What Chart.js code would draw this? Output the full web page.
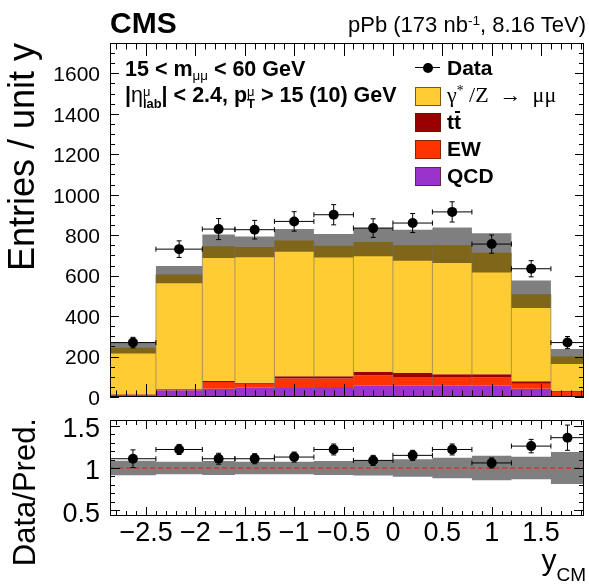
<!DOCTYPE html>
<html>
<head>
<meta charset="utf-8">
<title>DY pPb y_CM</title>
<script src="https://cdn.jsdelivr.net/npm/chart.js@4.4.1/dist/chart.umd.min.js"></script>
<style>
  html, body { margin: 0; padding: 0; background: #fff; overflow: hidden; }
  #wrap { position: relative; width: 589px; height: 588px; overflow: hidden;
          font-family: 'Liberation Sans', Arial, Helvetica, sans-serif; color: #000; }
  canvas { position: absolute; left: 0; }
  #main { top: 0; }
  #ratio { top: 405px; }
  .txt { position: absolute; white-space: nowrap; line-height: 1; }
  .b { font-weight: bold; }
  .rot { position: absolute; width: 300px; text-align: right; white-space: nowrap; line-height: 1;
         transform-origin: 0 0; transform: rotate(-90deg) translateX(-100%); }
  .greek { font-weight: normal; }
  .sub { font-size: 0.62em; position: relative; top: 0.3em; }
  .sup { font-size: 0.62em; position: relative; top: -0.55em; }
  .ss { display: inline-block; vertical-align: -0.45em; font-size: 0.6em; line-height: 0.95; }
  .ss > span { display: block; }
  .box { position: absolute; left: 415px; width: 24px; height: 17px; border: 1px solid rgba(80,30,0,0.7); }
  .tbar { position: relative; }
  .tbar::before { content: ''; position: absolute; left: 1px; right: 1px; top: 1px; height: 2px; background: #000; }
</style>
</head>
<body>
<div id="wrap">
  <canvas id="main" width="589" height="405"></canvas>
  <canvas id="ratio" width="589" height="183"></canvas>

  <div class="txt b" style="left:110px; top:8px; font-size:30px;">CMS</div>
  <div class="txt" style="right:3px; top:14px; font-size:22px;">pPb (173 nb<span class="sup">-1</span>, 8.16 TeV)</div>

  <div class="txt b" style="left:125px; top:59px; font-size:21.5px;">15 &lt; m<span class="sub greek">μμ</span> &lt; 60 GeV</div>
  <div class="txt b" style="left:125px; top:85px; font-size:21.5px;">|<span class="greek">η</span><span class="ss"><span class="greek">μ</span><span>lab</span></span>| &lt; 2.4, p<span class="ss"><span class="greek">μ</span><span>T</span></span> &gt; 15 (10) GeV</div>

  <!-- legend -->
  <div style="position:absolute; left:415px; top:67px; width:25px; height:1px; background:#000;"></div>
  <div style="position:absolute; left:423px; top:63px; width:10px; height:10px; border-radius:50%; background:#000;"></div>
  <div class="txt b" style="left:447px; top:57px; font-size:21px;">Data</div>
  <div class="box" style="top:87px; background:#ffcc33;"></div>
  <div class="txt" style="left:447px; top:84px; font-size:22px; font-family:'Liberation Serif', 'DejaVu Serif', serif;">γ<span class="sup">*</span> /Z &nbsp;→&nbsp; μμ</div>
  <div class="box" style="top:113px; background:#990000;"></div>
  <div class="txt b" style="left:447px; top:111px; font-size:21px;">t<span class="tbar">t</span></div>
  <div class="box" style="top:140px; background:#ff3300;"></div>
  <div class="txt b" style="left:447px; top:138px; font-size:21px;">EW</div>
  <div class="box" style="top:167px; background:#9933cc;"></div>
  <div class="txt b" style="left:447px; top:165px; font-size:21px;">QCD</div>

  <!-- axis titles -->
  <div class="rot" style="left:4px; top:43px; font-size:36px;">Entries / unit y</div>
  <div class="rot" style="left:9px; top:418px; font-size:31px;">Data/Pred.</div>
  <div class="txt" style="right:3px; top:545px; font-size:30px;">y<span style="font-size:19px; position:relative; top:11px;">CM</span></div>
</div>

<script>
// bin edges in y_CM
const binEdges = [-2.865, -2.4, -1.93, -1.6, -1.2, -0.8, -0.4, 0, 0.4, 0.8, 1.2, 1.6, 1.935];

// data (entries / unit y)
const dataVals = [269, 731, 830, 827, 868, 901, 835, 860, 915, 756, 634, 269];
const dataErr  = [26, 41, 52, 46, 48, 50, 46, 47, 50, 45, 40, 30];

// prediction components
const qcdVals = [3, 33, 41, 46, 45, 50, 56, 56, 56, 56, 41, 4];
const ewVals  = [8, 5, 33, 20, 46, 41, 51, 43, 43, 41, 25, 22];
const ttVals  = [3, 3, 5, 5, 11, 12, 16, 20, 13, 15, 12, 5];
const dyVals  = [229, 564, 666, 671, 672, 645, 643, 631, 638, 601, 430, 169];
const predUnc = [28, 43, 58, 51, 56, 58, 70, 77, 88, 97, 68, 37];

// ratio panel
const ratioVals = [1.11, 1.22, 1.11, 1.11, 1.13, 1.22, 1.09, 1.15, 1.22, 1.06, 1.26, 1.36];
const ratioErr  = [0.105, 0.06, 0.065, 0.06, 0.06, 0.065, 0.06, 0.06, 0.065, 0.06, 0.08, 0.15];
const ratioUnc  = [0.087, 0.075, 0.083, 0.075, 0.075, 0.083, 0.09, 0.105, 0.123, 0.145, 0.135, 0.19];

// tick labels
const xTickVals = [-2.5, -2, -1.5, -1, -0.5, 0, 0.5, 1, 1.5];
const yTickMain = [0, 200, 400, 600, 800, 1000, 1200, 1400, 1600];
const yTickRatio = [0.5, 1, 1.5];

Chart.defaults.font.family = "'Liberation Sans', Arial, Helvetica, sans-serif";
Chart.defaults.color = '#000';

const binCenters = binEdges.slice(0, -1).map((e, i) => (e + binEdges[i + 1]) / 2);

// one point per bin edge, value held until the next edge
function histLine(vals) {
  return binEdges.map((e, i) => ({ x: e, y: vals[Math.min(i, vals.length - 1)] }));
}
function addUp(a, b, sign = 1) {
  return a.map((v, i) => v + sign * b[i]);
}
function vErrBars(vals, errs) {
  const pts = [];
  binCenters.forEach((c, i) => {
    pts.push({ x: c, y: vals[i] - errs[i] }, { x: c, y: vals[i] + errs[i] }, { x: c, y: null });
  });
  return pts;
}
function hErrBars(vals) {
  const pts = [];
  vals.forEach((v, i) => {
    pts.push({ x: binEdges[i], y: v }, { x: binEdges[i + 1], y: v }, { x: binEdges[i + 1], y: null });
  });
  return pts;
}
function binSeparators(tops) {
  const pts = [];
  for (let i = 1; i < binEdges.length - 1; i++) {
    pts.push({ x: binEdges[i], y: 0 }, { x: binEdges[i], y: Math.max(tops[i - 1], tops[i]) }, { x: binEdges[i], y: null });
  }
  return pts;
}
// no extra room for half-labels sticking out of the axis
function fixWidth(w) {
  return s => { s.width = w; s.paddingTop = 0; s.paddingBottom = 0; };
}
function fixHeight(h) {
  return s => { s.height = h; s.paddingLeft = 0; s.paddingRight = 0; };
}

// ROOT-like frame with inward ticks on all four sides
function eachTick(scale, t, fn) {
  const k0 = Math.ceil(scale.min / t.minor - 1e-6);
  const k1 = Math.floor(scale.max / t.minor + 1e-6);
  for (let k = k0; k <= k1; k++) {
    fn(scale.getPixelForValue(k * t.minor), k % t.every === 0 ? t.majorLen : t.minorLen);
  }
}
const rootFrame = {
  id: 'rootFrame',
  afterDatasetsDraw(chart, args, opts) {
    const { ctx, chartArea: a } = chart;
    ctx.save();
    ctx.strokeStyle = '#000';
    ctx.lineWidth = 1;
    ctx.beginPath();
    eachTick(chart.scales.x, opts.x, (px, len) => {
      const x = Math.round(px) + 0.5;
      ctx.moveTo(x, a.bottom); ctx.lineTo(x, a.bottom - len);
      ctx.moveTo(x, a.top); ctx.lineTo(x, a.top + len);
    });
    eachTick(chart.scales.y, opts.y, (py, len) => {
      const y = Math.round(py) + 0.5;
      ctx.moveTo(a.left, y); ctx.lineTo(a.left + len, y);
      ctx.moveTo(a.right, y); ctx.lineTo(a.right - len, y);
    });
    ctx.stroke();
    ctx.strokeRect(a.left + 0.5, a.top + 0.5, a.width - 1, a.height - 1);
    ctx.restore();
  }
};

const sQcd = qcdVals;
const sEw = addUp(sQcd, ewVals);
const sTt = addUp(sEw, ttVals);
const sDy = addUp(sTt, dyVals);

function fillSet(vals, color, fill, order) {
  return { data: histLine(vals), stepped: 'before', borderWidth: 0, backgroundColor: color, fill: fill, pointRadius: 0, order: order };
}
function errSet(points, rotation, order) {
  return { data: points, borderColor: '#000', borderWidth: 1, spanGaps: false, fill: false,
           pointStyle: 'line', pointRadius: 2.5, pointRotation: rotation, pointBorderColor: '#000', pointBorderWidth: 1, order: order };
}
function markerSet(vals, order) {
  return { data: binCenters.map((c, i) => ({ x: c, y: vals[i] })), showLine: false,
           pointRadius: 5, pointBackgroundColor: '#000', pointBorderWidth: 0, order: order };
}

new Chart(document.getElementById('main'), {
  type: 'line',
  data: {
    datasets: [
      fillSet(sQcd, '#9933cc', 'origin', 10),
      fillSet(sEw, '#ff3300', '-1', 9),
      fillSet(sTt, '#990000', '-1', 8),
      fillSet(sDy, '#ffcc33', '-1', 7),
      fillSet(addUp(sDy, predUnc, -1), 'rgba(0,0,0,0)', false, 6),
      fillSet(addUp(sDy, predUnc), 'rgba(0,0,0,0.5)', '-1', 5),
      { data: binSeparators(sDy), borderColor: 'rgba(110,110,110,0.6)', borderWidth: 1, spanGaps: false, fill: false, pointRadius: 0, order: 4 },
      errSet(vErrBars(dataVals, dataErr), 0, 3),
      errSet(hErrBars(dataVals), 90, 2),
      markerSet(dataVals, 1)
    ]
  },
  options: {
    animation: false, responsive: false, events: [],
    layout: { padding: { left: 0, right: 3, top: 43, bottom: 8 } },
    plugins: {
      legend: { display: false }, tooltip: { enabled: false },
      rootFrame: {
        x: { minor: 0.1, every: 5, majorLen: 13, minorLen: 6.5 },
        y: { minor: 50, every: 4, majorLen: 9, minorLen: 5 }
      }
    },
    scales: {
      x: { type: 'linear', display: false, min: binEdges[0], max: binEdges[binEdges.length - 1] },
      y: {
        min: 0, max: 1750,
        afterFit: fixWidth(110),
        afterBuildTicks: s => { s.ticks = yTickMain.map(v => ({ value: v })); },
        grid: { display: false, drawTicks: false }, border: { display: false },
        ticks: { padding: 10, labelOffset: 2, font: { size: 21 }, color: '#000', callback: v => String(v) }
      }
    }
  },
  plugins: [rootFrame]
});

new Chart(document.getElementById('ratio'), {
  type: 'line',
  data: {
    datasets: [
      fillSet(addUp(ratioVals.map(() => 1), ratioUnc, -1), 'rgba(0,0,0,0)', false, 10),
      fillSet(addUp(ratioVals.map(() => 1), ratioUnc), 'rgba(0,0,0,0.5)', '-1', 9),
      { data: [{ x: binEdges[0], y: 1 }, { x: binEdges[binEdges.length - 1], y: 1 }],
        borderColor: '#d83030', borderWidth: 1.5, borderDash: [5, 3], fill: false, pointRadius: 0, order: 8 },
      errSet(vErrBars(ratioVals, ratioErr), 0, 3),
      errSet(hErrBars(ratioVals), 90, 2),
      markerSet(ratioVals, 1)
    ]
  },
  options: {
    animation: false, responsive: false, events: [],
    layout: { padding: { left: 0, right: 3, top: 15, bottom: 0 } },
    plugins: {
      legend: { display: false }, tooltip: { enabled: false },
      rootFrame: {
        x: { minor: 0.1, every: 5, majorLen: 9, minorLen: 5 },
        y: { minor: 0.1, every: 5, majorLen: 10, minorLen: 5 }
      }
    },
    scales: {
      x: {
        type: 'linear', min: binEdges[0], max: binEdges[binEdges.length - 1],
        afterFit: fixHeight(72),
        afterBuildTicks: s => { s.ticks = xTickVals.map(v => ({ value: v })); },
        grid: { display: false, drawTicks: false }, border: { display: false },
        ticks: { padding: 1, font: { size: 27 }, color: '#000', maxRotation: 0, autoSkip: false,
                 callback: v => String(v).replace('-', '\u2212') }
      },
      y: {
        min: 0.43, max: 1.57,
        afterFit: fixWidth(110),
        afterBuildTicks: s => { s.ticks = yTickRatio.map(v => ({ value: v })); },
        grid: { display: false, drawTicks: false }, border: { display: false },
        ticks: { padding: 10, labelOffset: 4, font: { size: 27 }, color: '#000', callback: v => String(v) }
      }
    }
  },
  plugins: [rootFrame]
});
</script>
</body>
</html>
